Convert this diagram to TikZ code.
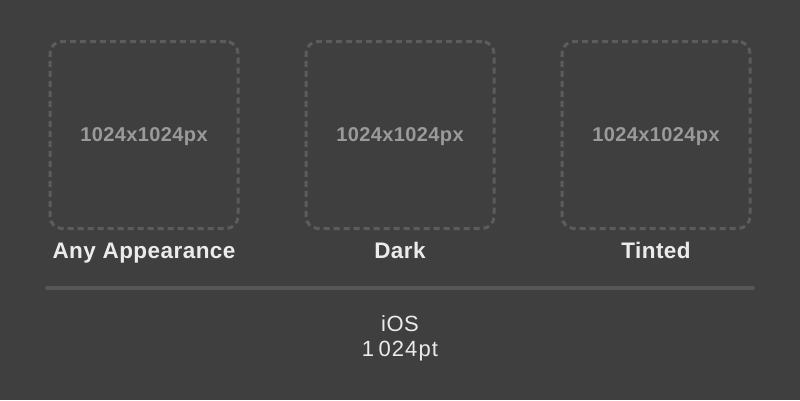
\documentclass[tikz,border=0pt]{standalone}
\usepackage{fontspec}
\setmainfont{Liberation Sans}
\newfontfamily\trackfont[LetterSpace=2]{Liberation Sans}
\newfontfamily\widefont[LetterSpace=5]{Liberation Sans}
\definecolor{bg}{HTML}{3F3F3F}
\definecolor{dashc}{HTML}{5C5C5C}
\definecolor{inner}{HTML}{9A9A9A}
\definecolor{labc}{HTML}{EBEBEB}
\definecolor{rulec}{HTML}{575757}
\begin{document}
\begin{tikzpicture}[x=1pt,y=-1pt,
  slot/.style={draw=dashc,line width=3pt,dash pattern=on 6pt off 4pt,rounded corners=12pt,minimum width=188pt,minimum height=187pt,inner sep=0pt},
  sizetxt/.style={text=inner,anchor=base,inner sep=0pt,font=\trackfont\fontsize{20}{22}\selectfont\bfseries},
  captxt/.style={text=labc,anchor=base,inner sep=0pt,font=\trackfont\fontsize{22.5}{24}\selectfont\bfseries},
  plat/.style={text=labc,anchor=base,inner sep=0pt,font=\trackfont\fontsize{22}{26}\selectfont},
  platnum/.style={text=labc,anchor=base,inner sep=0pt,font=\widefont\fontsize{22}{26}\selectfont}]
\fill[bg] (0,0) rectangle (800,400);
\useasboundingbox (0,0) rectangle (800,400);
\node[slot] (b1) at (144,135) {};
\node[slot] (b2) at (400,135) {};
\node[slot] (b3) at (656,135) {};
\node[sizetxt] (t1) at (144,141) {1024x1024px};
\node[sizetxt] (t2) at (400,141) {1024x1024px};
\node[sizetxt] (t3) at (656,141) {1024x1024px};
\node[captxt] (c1) at (144,258) {Any Appearance};
\node[captxt] (c2) at (400,258) {Dark};
\node[captxt] (c3) at (656,258) {Tinted};
\coordinate (l1) at (47,288);
\coordinate (l2) at (753,288);
\draw[rulec,line width=3.5pt,line cap=round] (l1) -- (l2);
\node[plat] (p1) at (400,331) {iOS};
\node[platnum] (p2) at (400,356) {1\hspace{0.2em}024pt};
\end{tikzpicture}
\end{document}
